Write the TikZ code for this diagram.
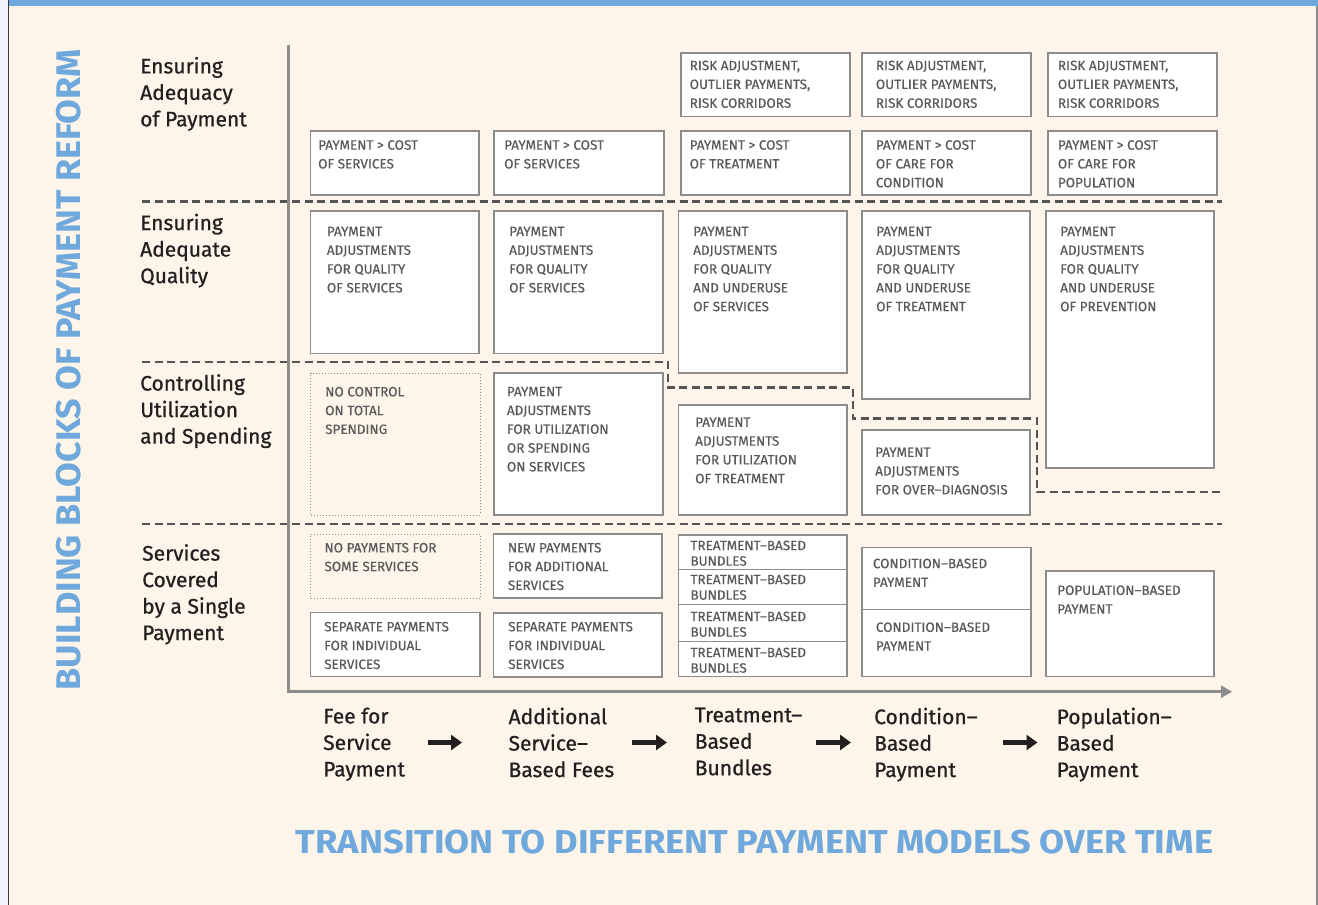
\documentclass[tikz,border=0pt]{standalone}
\usepackage{fontspec}
\setmainfont{Fira Sans}
\newfontfamily\lblfont{Fira Sans}[FakeBold=0.7]
\newfontfamily\bxfont{Fira Sans}[FakeBold=0.35]
\usetikzlibrary{fit,arrows.meta}
\definecolor{cream}{HTML}{FDF5E9}
\definecolor{blueT}{HTML}{6FA8DC}
\definecolor{boxtxt}{HTML}{58595B}
\definecolor{lbltxt}{HTML}{231F20}
\definecolor{boxline}{HTML}{8C8C8C}
\definecolor{dashc}{HTML}{555555}
\definecolor{leftstrip}{HTML}{F0F4FA}
\definecolor{borderL}{HTML}{3A3A3A}
\tikzset{
 bx/.style={draw=boxline, line width=1.4pt, fill=white, inner sep=0pt},
 dbx/.style={draw=boxline, line width=1pt, dotted, inner sep=0pt},
 bt/.style={anchor=north west, inner sep=0pt, align=left, text=boxtxt, font=\bxfont\fontsize{13.5}{18.8}\selectfont},
 btt/.style={bt, font=\bxfont\fontsize{13.5}{15.5}\selectfont},
 rl/.style={anchor=north west, inner sep=0pt, align=left, text=lbltxt, font=\lblfont\fontsize{21}{26.5}\selectfont},
 sepline/.style={draw=dashc, line width=2.6pt, dash pattern=on 8pt off 4.5pt},
 axisline/.style={draw=boxline, line width=2.6pt},
 prog/.style={line width=5pt, -{Triangle[length=11pt,width=15pt]}, lbltxt},
}
\begin{document}
\begin{tikzpicture}[x=1pt,y=-1pt]
\useasboundingbox (0,0) rectangle (1318,905);
% background
\fill[leftstrip] (0,0) rectangle (8,905);
\fill[cream] (8,5.5) rectangle (1316,905);
\fill[blueT] (8,0) rectangle (1318,5.5);
\draw[borderL, line width=1.3pt] (8.3,0) -- (8.3,905);
\draw[boxline, line width=2pt] (1316.8,5.5) -- (1316.8,905);

% blue titles
\node[rotate=90, inner sep=0pt, text=blueT] (vtitle) at (68.9,369.6)
  {\resizebox{641pt}{24.3pt}{\bfseries BUILDING BLOCKS OF PAYMENT REFORM}};
\node[inner sep=0pt, text=blueT] (htitle) at (754.5,842.2)
  {\resizebox{917pt}{23.5pt}{\bfseries TRANSITION TO DIFFERENT PAYMENT MODELS OVER TIME}};

% row labels
\node[rl] (lab1) at (140,56.8) {Ensuring\\Adequacy\\of Payment};
\node[rl] (lab2) at (140,213.5) {Ensuring\\Adequate\\Quality};
\node[rl] (lab3) at (140,374) {Controlling\\Utilization\\and Spending};
\node[rl] (lab4) at (142,544) {Services\\Covered\\by a Single\\Payment};

% separators
\coordinate (s1a) at (142,201.5); \coordinate (s1b) at (1222,201.5);
\draw[sepline] (s1a) -- (s1b);
\coordinate (s2a) at (142,362); \coordinate (s2b) at (668,362);
\coordinate (s2c) at (668,387.5); \coordinate (s2d) at (853,387.5);
\coordinate (s2e) at (853,418.5); \coordinate (s2f) at (1037,418.5);
\coordinate (s2g) at (1037,492); \coordinate (s2h) at (1222,492);
\draw[sepline] (s2a) -- (s2b) -- (s2c) -- (s2d) -- (s2e) -- (s2f) -- (s2g) -- (s2h);
\coordinate (s3a) at (142,524); \coordinate (s3b) at (1222,524);
\draw[sepline] (s3a) -- (s3b);

% axes
\coordinate (axtop) at (288.3,45);
\coordinate (axend) at (1232,691.7);
\draw[axisline, -{Triangle[length=11pt,width=12pt]}] (axtop) |- (axend);

% Row A: risk
\node[bx, fit={(681,53) (850,116.5)}] (r3) {};
\node[bt] (r3t) at (689.5,60.5) {RISK ADJUSTMENT,\\OUTLIER PAYMENTS,\\RISK CORRIDORS};
\node[bx, fit={(862,53) (1031,116.5)}] (r4) {};
\node[bt] (r4t) at (875.7,60.5) {RISK ADJUSTMENT,\\OUTLIER PAYMENTS,\\RISK CORRIDORS};
\node[bx, fit={(1048,53) (1217,116.5)}] (r5) {};
\node[bt] (r5t) at (1057.7,60.5) {RISK ADJUSTMENT,\\OUTLIER PAYMENTS,\\RISK CORRIDORS};

% Row B: cost
\node[bx, fit={(310.5,131) (479,195)}] (c1) {};
\node[bt] (c1t) at (318,140) {PAYMENT > COST\\OF SERVICES};
\node[bx, fit={(494,131) (664,195)}] (c2) {};
\node[bt] (c2t) at (504,140) {PAYMENT > COST\\OF SERVICES};
\node[bx, fit={(681,131) (850,195)}] (c3) {};
\node[bt] (c3t) at (689.5,140) {PAYMENT > COST\\OF TREATMENT};
\node[bx, fit={(862,131) (1031,195)}] (c4) {};
\node[bt] (c4t) at (875.7,140) {PAYMENT > COST\\OF CARE FOR\\CONDITION};
\node[bx, fit={(1048,131) (1217,195)}] (c5) {};
\node[bt] (c5t) at (1057.7,140) {PAYMENT > COST\\OF CARE FOR\\POPULATION};

% Row C: quality
\node[bx, fit={(310.5,211) (479,353.3)}] (q1) {};
\node[bt] (q1t) at (326.7,226.5) {PAYMENT\\ADJUSTMENTS\\FOR QUALITY\\OF SERVICES};
\node[bx, fit={(494,211) (663,353.3)}] (q2) {};
\node[bt] (q2t) at (509,226.5) {PAYMENT\\ADJUSTMENTS\\FOR QUALITY\\OF SERVICES};
\node[bx, fit={(678.5,211) (847,373)}] (q3) {};
\node[bt] (q3t) at (693,226.5) {PAYMENT\\ADJUSTMENTS\\FOR QUALITY\\AND UNDERUSE\\OF SERVICES};
\node[bx, fit={(862,211) (1030,399)}] (q4) {};
\node[bt] (q4t) at (876,226.5) {PAYMENT\\ADJUSTMENTS\\FOR QUALITY\\AND UNDERUSE\\OF TREATMENT};
\node[bx, fit={(1046,211) (1214,468)}] (q5) {};
\node[bt] (q5t) at (1060,226.5) {PAYMENT\\ADJUSTMENTS\\FOR QUALITY\\AND UNDERUSE\\OF PREVENTION};

% Row D: utilization
\node[dbx, fit={(310.7,373) (480,515)}] (u1) {};
\node[bt] (u1t) at (325,386.7) {NO CONTROL\\ON TOTAL\\SPENDING};
\node[bx, fit={(494,373) (663,515)}] (u2) {};
\node[bt] (u2t) at (506.7,386.7) {PAYMENT\\ADJUSTMENTS\\FOR UTILIZATION\\OR SPENDING\\ON SERVICES};
\node[bx, fit={(678.5,405) (847,515)}] (u3) {};
\node[bt] (u3t) at (695,417.3) {PAYMENT\\ADJUSTMENTS\\FOR UTILIZATION\\OF TREATMENT};
\node[bx, fit={(862,430) (1030,515)}] (u4) {};
\node[bt] (u4t) at (875,447.3) {PAYMENT\\ADJUSTMENTS\\FOR OVER–DIAGNOSIS};

% Row E: services
\node[dbx, fit={(310.7,534) (480,598.7)}] (e1a) {};
\node[bt] (e1at) at (324.3,542.7) {NO PAYMENTS FOR\\SOME SERVICES};
\node[bx, fit={(310.7,612.7) (480,676.7)}] (e1b) {};
\node[bt] (e1bt) at (324,621.7) {SEPARATE PAYMENTS\\FOR INDIVIDUAL\\SERVICES};
\node[bx, fit={(493.3,534) (662,598)}] (e2a) {};
\node[bt] (e2at) at (507.7,542.7) {NEW PAYMENTS\\FOR ADDITIONAL\\SERVICES};
\node[bx, fit={(493.3,613) (662,677)}] (e2b) {};
\node[bt] (e2bt) at (508,621.7) {SEPARATE PAYMENTS\\FOR INDIVIDUAL\\SERVICES};
\node[bx, fit={(678.5,535) (847,569.3)}] (t1) {};
\node[btt] (t1t) at (690.3,540.5) {TREATMENT–BASED\\BUNDLES};
\node[bx, fit={(678.5,569.3) (847,604.3)}] (t2) {};
\node[btt] (t2t) at (690.3,574.5) {TREATMENT–BASED\\BUNDLES};
\node[bx, fit={(678.5,604.3) (847,641.7)}] (t3) {};
\node[btt] (t3t) at (690.3,611.5) {TREATMENT–BASED\\BUNDLES};
\node[bx, fit={(678.5,641.7) (847,676.7)}] (t4) {};
\node[btt] (t4t) at (690.3,647.5) {TREATMENT–BASED\\BUNDLES};
\node[bx, fit={(862,547.7) (1031,609.3)}] (k1) {};
\node[bt] (k1t) at (872.7,558.5) {CONDITION–BASED\\PAYMENT};
\node[bx, fit={(862,609.3) (1031,676.7)}] (k2) {};
\node[bt] (k2t) at (875.7,622.2) {CONDITION–BASED\\PAYMENT};
\node[bx, fit={(1046,571) (1214,676.7)}] (pp) {};
\node[bt] (ppt) at (1057,585.2) {POPULATION–BASED\\PAYMENT};

% bottom model labels
\node[rl] (m1) at (323,707.5) {Fee for\\Service\\Payment};
\node[rl] (m2) at (508.4,707.5) {Additional\\Service–\\Based Fees};
\node[rl] (m3) at (694.6,707.5) {Treatment–\\Based\\Bundles};
\node[rl] (m4) at (874,707.5) {Condition–\\Based\\Payment};
\node[rl] (m5) at (1056.5,707.5) {Population–\\Based\\Payment};

% progression arrows
\coordinate (a1s) at (427.5,742.5); \coordinate (a1e) at (462,742.5);
\coordinate (a2s) at (632,742.5); \coordinate (a2e) at (667,742.5);
\coordinate (a3s) at (816,742.5); \coordinate (a3e) at (851,742.5);
\coordinate (a4s) at (1002.5,742.5); \coordinate (a4e) at (1037.5,742.5);
\draw[prog] (a1s) -- (a1e);
\draw[prog] (a2s) -- (a2e);
\draw[prog] (a3s) -- (a3e);
\draw[prog] (a4s) -- (a4e);
\end{tikzpicture}
\end{document}
